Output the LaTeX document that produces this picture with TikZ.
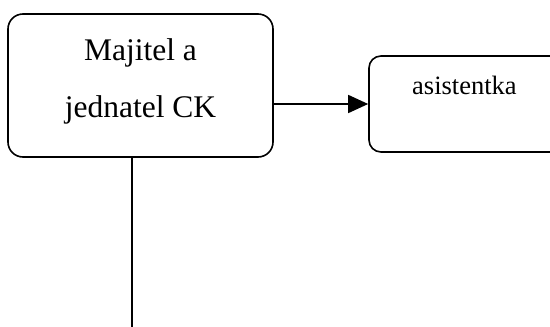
\documentclass[tikz,border=0pt]{standalone}
\usepackage{fontspec}
\setmainfont{Liberation Serif}
\usetikzlibrary{arrows.meta}
\begin{document}
\begin{tikzpicture}[x=1pt,y=-1pt,
  orgbox/.style={draw,line width=1.6pt,rounded corners=15pt,inner sep=0pt},
  bigtext/.style={font=\fontsize{31.5}{36}\selectfont,anchor=base,inner sep=0pt},
  smalltext/.style={font=\fontsize{26.5}{30}\selectfont,anchor=base west,inner sep=0pt},
  link/.style={line width=1.6pt}]
\useasboundingbox (0,0) rectangle (550,327);
\clip (0,0) rectangle (550,327);
% owner box
\node[orgbox,minimum width=265pt,minimum height=143pt] (owner) at (140.5,85.5) {};
\node[bigtext] (ownerA) at (140.5,60) {Majitel a};
\node[bigtext] (ownerB) at (140.5,117) {jednatel CK};
% assistant box (runs past the right edge)
\node[orgbox,rounded corners=12pt,minimum width=240pt,minimum height=96pt] (asst) at (489,104) {};
\node[smalltext] (asstT) at (412,94) {asistentka};
% connectors
\draw[link,-{Triangle[length=20pt,width=18pt]}] (asst.west -| owner.east) -- (asst.west);
\coordinate (down) at (132,330);
\draw[link] (owner.south -| down) -- (down);
\end{tikzpicture}
\end{document}
